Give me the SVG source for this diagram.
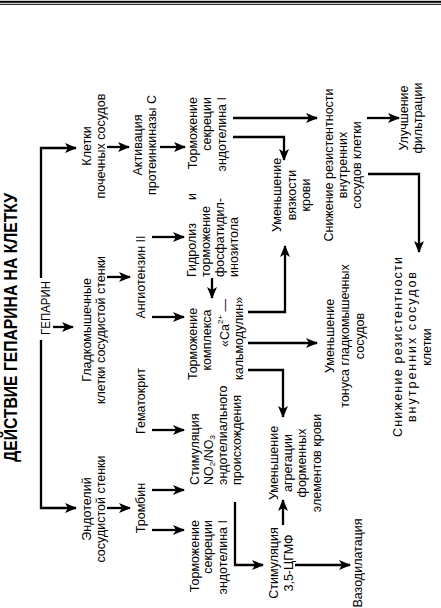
<svg xmlns="http://www.w3.org/2000/svg" width="441" height="608" viewBox="0 0 441 608">
<style>
.t{font-family:"Liberation Sans",Arial,sans-serif;font-size:12.5px;fill:#000}
.ti{font-weight:bold;font-size:18px}
.c{stroke:#000;stroke-width:2.3;fill:none;marker-end:url(#ah)}
.m{text-anchor:middle}
.e{text-anchor:end}
.sub{font-size:8px}
</style>
<defs>
<marker id="ah" markerUnits="userSpaceOnUse" viewBox="0 0 12 10" refX="11" refY="5" markerWidth="12" markerHeight="10" orient="auto">
<path d="M0,0 L12,5 L0,10 L3,5 z" fill="#000"/>
</marker>
</defs>
<rect x="0" y="0.8" width="441" height="2" fill="#000"/>
<rect x="0" y="3.8" width="441" height="1" fill="#000"/>

<g id="n_title" transform="rotate(-90)"><text class="t ti" x="-462" y="17" textLength="269" lengthAdjust="spacingAndGlyphs">ДЕЙСТВИЕ ГЕПАРИНА НА КЛЕТКУ</text></g>
<g id="n_heparin" transform="rotate(-90)"><text class="t m" x="-308" y="50" style="font-size:13px" textLength="54" lengthAdjust="spacingAndGlyphs">ГЕПАРИН</text></g>
<g id="n_kletki" transform="rotate(-90)"><text class="t m" x="-146" y="91">Клетки</text><text class="t m" x="-146" y="105">почечных сосудов</text></g>
<g id="n_glad" transform="rotate(-90)"><text class="t m" x="-330" y="91">Гладкомышечные</text><text class="t m" x="-330" y="105">клетки сосудистой стенки</text></g>
<g id="n_endo" transform="rotate(-90)"><text class="t m" x="-509" y="91">Эндотелий</text><text class="t m" x="-509" y="105">сосудистой стенки</text></g>
<g id="n_aktiv" transform="rotate(-90)"><text class="t m" x="-145" y="142">Активация</text><text class="t m" x="-145" y="156">протеинкиназы С</text></g>
<g id="n_angio" transform="rotate(-90)"><text class="t m" x="-277" y="145">Ангиотензин II</text></g>
<g id="n_gemato" transform="rotate(-90)"><text class="t m" x="-401" y="145">Гематокрит</text></g>
<g id="n_tromb" transform="rotate(-90)"><text class="t m" x="-508" y="145">Тромбин</text></g>
<g id="n_torm1" transform="rotate(-90)"><text class="t e" x="-97" y="197">Торможение</text><text class="t e" x="-97" y="211">секреции</text><text class="t e" x="-97" y="226">эндотелина I</text></g>
<g id="n_gidro" transform="rotate(-90)"><text class="t" x="-277" y="196">Гидролиз</text><text class="t e" x="-193" y="196">и</text><text class="t" x="-277" y="210">торможение</text><text class="t" x="-277" y="224">фосфатидил-</text><text class="t" x="-277" y="238">инозитола</text></g>
<g id="n_kompl" transform="rotate(-90)"><text class="t" x="-380" y="197">Торможение</text><text class="t m" x="-340" y="211">комплекса</text><text class="t" x="-347" y="229">«Ca<tspan class="sub" dy="-6">2+</tspan><tspan dy="6"> —</tspan></text><text class="t" x="-380" y="243">кальмодулин»</text></g>
<g id="n_stimno" transform="rotate(-90)"><text class="t" x="-485" y="199">Стимуляция</text><text class="t" x="-485" y="213">NO<tspan class="sub" dy="2">2</tspan><tspan dy="-2">/NO</tspan><tspan class="sub" dy="2">3</tspan></text><text class="t" x="-485" y="227">эндотелиального</text><text class="t" x="-485" y="241">происхождения</text></g>
<g id="n_torm2" transform="rotate(-90)"><text class="t e" x="-520" y="199">Торможение</text><text class="t e" x="-520" y="212">секреции</text><text class="t e" x="-520" y="227">эндотелина I</text></g>
<g id="n_vyaz" transform="rotate(-90)"><text class="t m" x="-195" y="281">Уменьшение</text><text class="t m" x="-195" y="296">вязкости</text><text class="t m" x="-195" y="310">крови</text></g>
<g id="n_agreg" transform="rotate(-90)"><text class="t m" x="-463" y="278">Уменьшение</text><text class="t m" x="-463" y="292">агрегации</text><text class="t m" x="-463" y="306">форменных</text><text class="t m" x="-463" y="321">элементов крови</text></g>
<g id="n_cgmp" transform="rotate(-90)"><text class="t m" x="-563" y="278">Стимуляция</text><text class="t m" x="-563" y="293">3,5-ЦГМФ</text></g>
<g id="n_vazo" transform="rotate(-90)"><text class="t m" x="-563" y="362">Вазодилатация</text></g>
<g id="n_tonus" transform="rotate(-90)"><text class="t m" x="-336" y="334">Уменьшение</text><text class="t m" x="-336" y="349">тонуса гладкомышечных</text><text class="t m" x="-336" y="364">сосудов</text></g>
<g id="n_resist1" transform="rotate(-90)"><text class="t m" x="-165" y="333">Снижение резистентности</text><text class="t m" x="-165" y="347">внутренних</text><text class="t m" x="-165" y="361">сосудов клетки</text></g>
<g id="n_filtr" transform="rotate(-90)"><text class="t m" x="-118" y="408">Улучшение</text><text class="t m" x="-118" y="422">фильтрации</text></g>
<g id="n_resist2" transform="rotate(-90)"><text class="t m" x="-347" y="402" textLength="180" lengthAdjust="spacing">Снижение резистентности</text><text class="t m" x="-347" y="416" textLength="150" lengthAdjust="spacing">внутренних сосудов</text><text class="t m" x="-347" y="431">клетки</text></g>

<g id="connectors">
<path class="c" d="M41,278 V148 H76"/>
<path class="c" d="M41,340 V508 H76"/>
<path class="c" d="M53,327 H73"/>
<path class="c" d="M107,147 H129"/>
<path class="c" d="M107,277 H130"/>
<path class="c" d="M107,508 H130"/>
<path class="c" d="M160,147 H185"/>
<path class="c" d="M152,237 H184"/>
<path class="c" d="M152,317 H184"/>
<path class="c" d="M152,430 H184"/>
<path class="c" d="M152,490 H184"/>
<path class="c" d="M152,530 H184"/>
<path class="c" d="M212,278 V298"/>
<path class="c" d="M233,118 H317"/>
<path class="c" d="M233,137 H284 V160"/>
<path class="c" d="M248,312 H285 V246"/>
<path class="c" d="M248,343 H317"/>
<path class="c" d="M248,370 H283 V417"/>
<path class="c" d="M235,502 V565 H263"/>
<path class="c" d="M283,525 V500"/>
<path class="c" d="M295,565 H350"/>
<path class="c" d="M367,118 H399"/>
<path class="c" d="M368,174 H419 V252"/>
</g>
</svg>
